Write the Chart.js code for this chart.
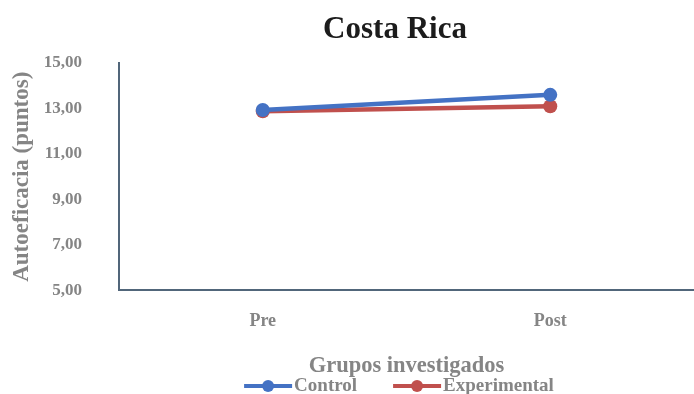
<!DOCTYPE html>
<html>
<head>
<meta charset="utf-8">
<script src="https://cdn.jsdelivr.net/npm/chart.js@4/dist/chart.umd.min.js"></script>
<style>
  html, body { margin: 0; padding: 0; background: #ffffff; }
  #wrap { width: 694px; height: 394px; position: relative; }
</style>
</head>
<body>
<div id="wrap"><canvas id="c"></canvas></div>
<script>
// Groups measured and self-efficacy scores (points)
const chartTitle = 'Costa Rica';
const categories = ['Pre', 'Post'];
const controlValues = [12.93, 13.6];
const experimentalValues = [12.88, 13.1];
const yTicks = [5, 7, 9, 11, 13, 15];

const BLUE = '#4472c4';
const RED = '#c0504d';
const GREY = '#858585';
const AXIS = '#51667a';
const SERIF = '"Liberation Serif", "DejaVu Serif", serif';

const fmt = v => v.toFixed(2).replace('.', ',');

// Heading, centred a little left of the plot's middle
const heading = {
  id: 'heading',
  afterDraw(chart) {
    const ctx = chart.ctx;
    ctx.save();
    ctx.font = `bold 31px ${SERIF}`;
    ctx.fillStyle = '#1c1c1c';
    ctx.textAlign = 'center';
    ctx.textBaseline = 'middle';
    ctx.fillText(chartTitle, 395, 30);
    ctx.restore();
  }
};

// Legend under the axis title: line-with-dot marker followed by the series name
const lineLegend = {
  id: 'lineLegend',
  afterDraw(chart) {
    const ctx = chart.ctx;
    const lineLen = 48, gapText = 2, gapItems = 36, y = 386;
    ctx.save();
    ctx.font = `bold 19px ${SERIF}`;
    const items = chart.data.datasets.map(ds => ({
      color: ds.borderColor, text: ds.label, w: ctx.measureText(ds.label).width
    }));
    const total = items.reduce((s, it) => s + lineLen + gapText + it.w, 0) + gapItems * (items.length - 1);
    let x = 399 - total / 2;
    items.forEach(it => {
      ctx.strokeStyle = it.color;
      ctx.lineWidth = 4;
      ctx.beginPath(); ctx.moveTo(x, y); ctx.lineTo(x + lineLen, y); ctx.stroke();
      ctx.fillStyle = it.color;
      ctx.beginPath(); ctx.arc(x + lineLen / 2, y, 6, 0, Math.PI * 2); ctx.fill();
      ctx.fillStyle = GREY;
      ctx.textBaseline = 'middle';
      ctx.textAlign = 'left';
      ctx.fillText(it.text, x + lineLen + gapText, y);
      x += lineLen + gapText + it.w + gapItems;
    });
    ctx.restore();
  }
};

new Chart(document.getElementById('c'), {
  type: 'line',
  data: {
    labels: categories,
    datasets: [
      {
        label: 'Control',
        data: controlValues,
        borderColor: BLUE,
        backgroundColor: BLUE,
        borderWidth: 4.5,
        pointRadius: 7,
        pointBackgroundColor: BLUE,
        pointBorderWidth: 0
      },
      {
        label: 'Experimental',
        data: experimentalValues,
        borderColor: RED,
        backgroundColor: RED,
        borderWidth: 4.5,
        pointRadius: 7,
        pointBackgroundColor: RED,
        pointBorderWidth: 0
      }
    ]
  },
  plugins: [heading, lineLegend],
  options: {
    responsive: true,
    maintainAspectRatio: false,
    animation: false,
    layout: { autoPadding: false, padding: { left: 0, right: 0, top: 63, bottom: 10 } },
    plugins: {
      title: { display: false },
      legend: { display: false },
      tooltip: { enabled: false }
    },
    scales: {
      x: {
        offset: true,
        grid: { display: false, drawTicks: false },
        border: { display: true, color: AXIS, width: 2 },
        ticks: {
          color: GREY,
          font: { family: SERIF, size: 18, weight: 'bold' },
          padding: 20
        },
        title: {
          display: true,
          text: 'Grupos investigados',
          color: GREY,
          font: { family: SERIF, size: 22.5, weight: 'bold' },
          padding: { top: 1, bottom: 4 }
        }
      },
      y: {
        min: 5,
        max: 15,
        afterBuildTicks: axis => { axis.ticks = yTicks.map(v => ({ value: v })); },
        afterFit: axis => { axis.width = 119; },
        grid: { display: false, drawTicks: false },
        border: { display: true, color: AXIS, width: 2 },
        ticks: {
          color: GREY,
          font: { family: SERIF, size: 17, weight: 'bold' },
          padding: 37,
          callback: v => fmt(v)
        },
        title: {
          display: true,
          text: 'Autoeficacia (puntos)',
          color: GREY,
          font: { family: SERIF, size: 23, weight: 'bold' },
          padding: { top: 8, bottom: 0 }
        }
      }
    }
  }
});
</script>
</body>
</html>
